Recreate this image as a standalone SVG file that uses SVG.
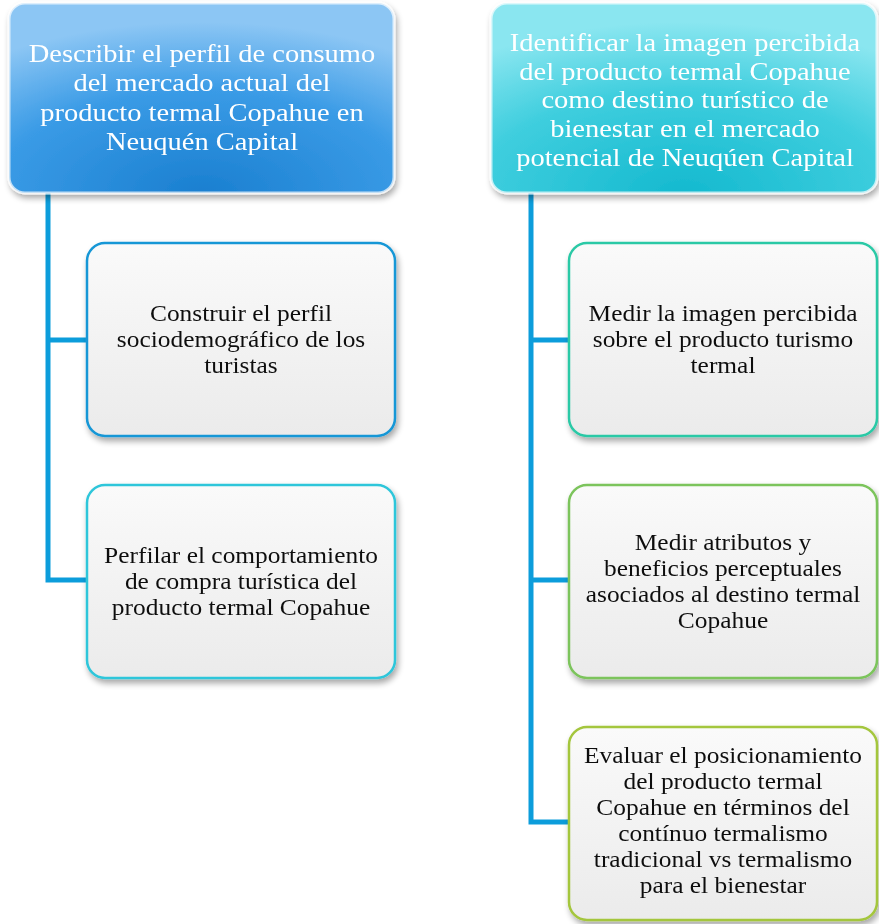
<svg xmlns="http://www.w3.org/2000/svg" width="879" height="924" viewBox="0 0 879 924">
<defs>
<radialGradient id="gBlue" cx="0.5" cy="1" r="0.9" fx="0.5" fy="1">
<stop offset="0" stop-color="#1a7fd0"/>
<stop offset="0.6" stop-color="#3a9be6"/>
<stop offset="1" stop-color="#8cc6f4"/>
</radialGradient>
<radialGradient id="gCyan" cx="0.5" cy="1" r="0.9" fx="0.5" fy="1">
<stop offset="0" stop-color="#14b9cf"/>
<stop offset="0.6" stop-color="#3fcede"/>
<stop offset="1" stop-color="#8ae6f0"/>
</radialGradient>
<linearGradient id="gGray" x1="0" y1="0" x2="0" y2="1">
<stop offset="0" stop-color="#fafafa"/>
<stop offset="1" stop-color="#ebebeb"/>
</linearGradient>
<filter id="sh" x="-10%" y="-10%" width="125%" height="125%">
<feGaussianBlur in="SourceAlpha" stdDeviation="3"/>
<feOffset dx="2" dy="4" result="b"/>
<feComponentTransfer><feFuncA type="linear" slope="0.35"/></feComponentTransfer>
<feMerge><feMergeNode/><feMergeNode in="SourceGraphic"/></feMerge>
</filter>
</defs>
<style>
.hd{stroke:#ffffff;stroke-opacity:0.7;stroke-width:3}
.ch{fill:url(#gGray);stroke-width:2.5}
.ht{font-family:"Liberation Serif",serif;font-size:24.5px;fill:#ffffff;text-anchor:middle}
.ct{font-family:"Liberation Serif",serif;font-size:22.5px;fill:#111111;text-anchor:middle}
.cn{fill:none;stroke:#0c9ddb;stroke-width:5}
</style>
<g id="connectors">
<path class="cn" d="M48,192 V580 H88 M48,340 H88"/>
<path class="cn" d="M531,192 V822 H570 M531,340 H570 M531,580 H570"/>
</g>
<g id="h1" filter="url(#sh)">
<rect x="9" y="3" width="385" height="190" rx="16" fill="url(#gBlue)" class="hd"/>
<text class="ht" transform="translate(202,0) scale(1.163,1)"><tspan x="0" y="62">Describir el perfil de consumo</tspan><tspan x="0" y="91.5">del mercado actual del</tspan><tspan x="0" y="121">producto termal Copahue en</tspan><tspan x="0" y="150">Neuquén Capital</tspan></text>
</g>
<g id="h2" filter="url(#sh)">
<rect x="491" y="3" width="386" height="190" rx="16" fill="url(#gCyan)" class="hd"/>
<text class="ht" transform="translate(685,0) scale(1.163,1)"><tspan x="0" y="51">Identificar la imagen percibida</tspan><tspan x="0" y="79.75">del producto termal Copahue</tspan><tspan x="0" y="108.5">como destino turístico de</tspan><tspan x="0" y="137.25">bienestar en el mercado</tspan><tspan x="0" y="166">potencial de Neuqúen Capital</tspan></text>
</g>
<g id="c1" filter="url(#sh)">
<rect x="87" y="243" width="308" height="193" rx="18" class="ch" stroke="#1897d6"/>
<text class="ct" transform="translate(241,0) scale(1.13,1)"><tspan x="0" y="321">Construir el perfil</tspan><tspan x="0" y="347">sociodemográfico de los</tspan><tspan x="0" y="373">turistas</tspan></text>
</g>
<g id="c2" filter="url(#sh)">
<rect x="87" y="485" width="308" height="193" rx="18" class="ch" stroke="#2ec6da"/>
<text class="ct" transform="translate(241,0) scale(1.13,1)"><tspan x="0" y="563">Perfilar el comportamiento</tspan><tspan x="0" y="589">de compra turística del</tspan><tspan x="0" y="615">producto termal Copahue</tspan></text>
</g>
<g id="c3" filter="url(#sh)">
<rect x="569" y="243" width="308" height="193" rx="18" class="ch" stroke="#2cc9a6"/>
<text class="ct" transform="translate(723,0) scale(1.13,1)"><tspan x="0" y="321">Medir la imagen percibida</tspan><tspan x="0" y="347">sobre el producto turismo</tspan><tspan x="0" y="373">termal</tspan></text>
</g>
<g id="c4" filter="url(#sh)">
<rect x="569" y="485" width="308" height="193" rx="18" class="ch" stroke="#7cc45c"/>
<text class="ct" transform="translate(723,0) scale(1.13,1)"><tspan x="0" y="550">Medir atributos y</tspan><tspan x="0" y="576">beneficios perceptuales</tspan><tspan x="0" y="602">asociados al destino termal</tspan><tspan x="0" y="628">Copahue</tspan></text>
</g>
<g id="c5" filter="url(#sh)">
<rect x="569" y="727" width="308" height="193" rx="18" class="ch" stroke="#a4c63e"/>
<text class="ct" transform="translate(723,0) scale(1.13,1)"><tspan x="0" y="763">Evaluar el posicionamiento</tspan><tspan x="0" y="789">del producto termal</tspan><tspan x="0" y="815">Copahue en términos del</tspan><tspan x="0" y="841">contínuo termalismo</tspan><tspan x="0" y="867">tradicional vs termalismo</tspan><tspan x="0" y="893">para el bienestar</tspan></text>
</g>
</svg>
